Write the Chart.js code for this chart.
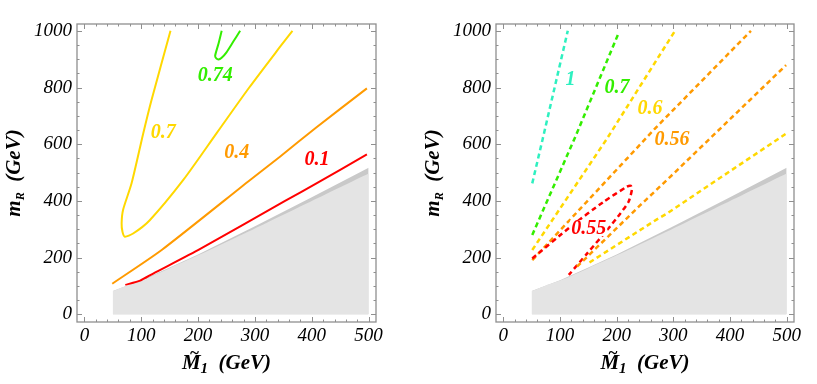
<!DOCTYPE html>
<html><head><meta charset="utf-8">
<script src="https://cdn.jsdelivr.net/npm/chart.js@4.4.1/dist/chart.umd.min.js"></script>
<style>
html,body{margin:0;padding:0;background:#fff;width:817px;height:384px;overflow:hidden}
#l{position:absolute;left:0;top:0;width:408px;height:384px}
#r{position:absolute;left:408px;top:0;width:409px;height:384px}
</style></head><body>
<div id="l"><canvas id="cl" width="408" height="384"></canvas></div>
<div id="r"><canvas id="cr" width="409" height="384"></canvas></div>
<script>
// ---- data (GeV) ----
const xTickValues = [0, 100, 200, 300, 400, 500];
const yTickValues = [0, 200, 400, 600, 800, 1000];
const excludedLight = [[50,82],[75,102],[100,119],[150,163],[200,208],[300,303],[400,400],[500,497]];
const excludedDark  = [[50,82],[100,120],[150,165],[200,211],[300,311],[400,413],[500,517]];
// left panel contours (solid)
const L_074 = [[241.5,1000],[236,955],[230,912],[232,903],[236,899],[241,904],[250,924],[262,962],[274,1000]];
const L_07  = [[151.5,1000],[118,755],[103.5,638],[83,462],[68,368],[65.5,321],[67,291],[71,274],[85.7,285],[115,332],[174,474],[233,640],[290,800],[344,943],[366,1000]];
const L_04  = [[49,108],[136,227],[291,473],[344,556],[409,661],[497,797]];
const L_01  = [[72,104],[98,119],[121,144],[203,230],[353,400],[409,463],[497,564]];
// right panel contours (dashed)
const R_1    = [[51,462],[69,615],[113.7,1000]];
const R_07   = [[51,280],[127,626],[203,990]];
const R_06a  = [[51,227],[183,620],[303,1000]];
const R_06b  = [[152,183],[271,335],[289,356],[498,636]];
const R_056a = [[51,191],[268,656],[437,1000]];
const R_056b = [[130,168],[241.7,385],[294.5,485],[499,879]];
const R_055  = [[51,197],[118.5,309],[177,397],[218,450],[225,453],[227,440],[221,397],[206.5,356],[183,297],[148,215],[115.5,139]];
// contour labels [text, x, y]
const leftLabels  = [['0.74',230,844],['0.7',138.6,642],['0.4',268,573],['0.1',409,550]];
const rightLabels = [['1',118.5,832],['0.7',200.7,802],['0.6',259,730],['0.56',297.5,620],['0.55',150.7,304]];

// ---- styles ----
const C = {yellow:'#ffd800', orange:'#ff9a00', red:'#ff0000', green:'#33ee00', cyan:'#2ef0c0'};
const serif = "'Liberation Serif','Times New Roman',serif";
const pts = a => a.map(p => ({x:p[0], y:p[1]}));

function grayDatasets(){
  return [
    {data:pts(excludedDark), borderColor:'rgba(0,0,0,0)', borderWidth:0, backgroundColor:'#c9c9c9', fill:'origin', order:10, tension:0},
    {data:pts(excludedLight), borderColor:'rgba(0,0,0,0)', borderWidth:0, backgroundColor:'#e4e4e4', fill:'origin', order:9, tension:0.2}
  ];
}
function line(d, color, dashed, tension){
  return {data:pts(d), borderColor:color, borderWidth: dashed ? 2.5 : 2, borderDash: dashed ? [5,3.5] : [], fill:false, order:1, tension: tension||0, borderCapStyle:'butt'};
}

function mmaPlugin(labels){
  return {
    id:'mma',
    afterDatasetsDraw(chart){
      const ctx = chart.ctx, xs = chart.scales.x, ys = chart.scales.y;
      ctx.save();
      ctx.font = 'italic bold 20px ' + serif;
      ctx.textAlign = 'center'; ctx.textBaseline = 'middle';
      labels.forEach(l => {
        const px = xs.getPixelForValue(l[1]), py = ys.getPixelForValue(l[2]);
        const w = ctx.measureText(l[0]).width;
        ctx.fillStyle = '#fff';
        ctx.fillRect(px - w/2 - 1, py - 8, w + 2, 16);
        ctx.fillStyle = l[3];
        ctx.fillText(l[0], px, py + 1);
      });
      ctx.restore();
    },
    afterDraw(chart){
      const ctx = chart.ctx, a = chart.chartArea, xs = chart.scales.x, ys = chart.scales.y;
      ctx.save();
      ctx.strokeStyle = '#8f8f8f';
      ctx.lineWidth = 1.3;
      ctx.strokeRect(a.left, a.top, a.right - a.left, a.bottom - a.top);
      ctx.lineWidth = 1;
      ctx.beginPath();
      for (let v = 0; v <= 500; v += 20) {
        const L = v % 100 === 0 ? 5 : 2.5, p = Math.round(xs.getPixelForValue(v)) + 0.5;
        ctx.moveTo(p, a.bottom); ctx.lineTo(p, a.bottom - L);
        ctx.moveTo(p, a.top); ctx.lineTo(p, a.top + L);
      }
      for (let v = 0; v <= 1000; v += 50) {
        const L = v % 200 === 0 ? 5 : 2.5, p = Math.round(ys.getPixelForValue(v)) + 0.5;
        ctx.moveTo(a.left, p); ctx.lineTo(a.left + L, p);
        ctx.moveTo(a.right, p); ctx.lineTo(a.right - L, p);
      }
      ctx.stroke();
      // x title: M~_1 (GeV)
      ctx.fillStyle = '#000';
      ctx.textBaseline = 'alphabetic'; ctx.textAlign = 'left';
      const big = 'italic bold 21px ' + serif, sub = 'italic bold 15px ' + serif;
      ctx.font = big; const wM = ctx.measureText('M').width;
      ctx.font = sub; const w1 = ctx.measureText('1').width;
      ctx.font = big; const wG = ctx.measureText('  (GeV)').width;
      const cx = (a.left + a.right) / 2, by = 369;
      let x0 = cx - (wM + w1 + wG) / 2;
      ctx.fillText('M', x0, by);
      ctx.textAlign = 'center';
      ctx.font = 'italic bold 17px ' + serif;
      ctx.fillText('~', x0 + wM/2 + 3, by - 11);
      ctx.textAlign = 'left';
      ctx.font = sub; ctx.fillText('1', x0 + wM, by + 4);
      ctx.font = big; ctx.fillText('  (GeV)', x0 + wM + w1, by);
      // y title: m_R (GeV)
      ctx.translate(a.left - 57, (a.top + a.bottom) / 2);
      ctx.rotate(-Math.PI / 2);
      const subR = 'italic bold 12px ' + serif;
      ctx.font = big; const wm = ctx.measureText('m').width;
      ctx.font = subR; const wR = ctx.measureText('R').width;
      ctx.font = big; const wG2 = ctx.measureText('  (GeV)').width;
      let y0 = -(wm + wR + wG2) / 2;
      ctx.fillText('m', y0, 0);
      ctx.font = subR; ctx.fillText('R', y0 + wm, 4);
      ctx.font = big; ctx.fillText('  (GeV)', y0 + wm + wR, 0);
      ctx.restore();
    }
  };
}

function makeChart(id, datasets, labels, yWidth, padRight){
  return new Chart(document.getElementById(id), {
    type:'scatter',
    data:{datasets:datasets},
    options:{
      responsive:false, animation:false, devicePixelRatio:1,
      layout:{padding:{top:24, right:padRight, left:0, bottom:0}},
      elements:{point:{radius:0, hoverRadius:0}},
      datasets:{scatter:{showLine:true, pointRadius:0}},
      plugins:{legend:{display:false}, tooltip:{enabled:false}},
      scales:{
        x:{type:'linear', min:-13, max:513,
           grid:{display:false, drawTicks:false}, border:{display:false},
           afterBuildTicks: s => { s.ticks = xTickValues.map(v => ({value:v})); },
           afterFit: s => { s.height = 62; },
           ticks:{color:'#000', padding:3, maxRotation:0, autoSkip:false, callback: v => String(v),
                  font:{family:serif, style:'italic', size:19}}},
        y:{type:'linear', min:-27, max:1024,
           grid:{display:false, drawTicks:false}, border:{display:false},
           afterBuildTicks: s => { s.ticks = yTickValues.map(v => ({value:v})); },
           afterFit: s => { s.width = yWidth; },
           ticks:{color:'#000', padding:5, autoSkip:false, callback: v => String(v),
                  font:{family:serif, style:'italic', size:19}}}
      }
    },
    plugins:[mmaPlugin(labels)]
  });
}

makeChart('cl', [
  ...grayDatasets(),
  line(L_01, C.red, false, 0.2),
  line(L_04, C.orange, false, 0.2),
  line(L_07, C.yellow, false, 0.25),
  line(L_074, C.green, false, 0.2)
], leftLabels.map((l,i) => [...l, [C.green, C.yellow, C.orange, C.red][i]]), 77, 32);

makeChart('cr', [
  ...grayDatasets(),
  line(R_06b, C.yellow, true, 0),
  line(R_056b, C.orange, true, 0),
  line(R_055, C.red, true, 0.2),
  line(R_056a, C.orange, true, 0),
  line(R_06a, C.yellow, true, 0),
  line(R_07, C.green, true, 0),
  line(R_1, C.cyan, true, 0)
], rightLabels.map((l,i) => [...l, [C.cyan, C.green, C.yellow, C.orange, C.red][i]]), 88, 23);
</script>
</body></html>
